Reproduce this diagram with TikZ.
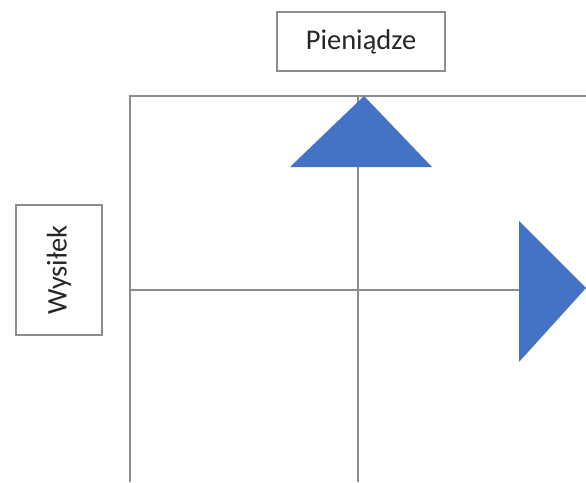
\documentclass[tikz,border=0pt]{standalone}
\usepackage{fontspec}
\setmainfont{Carlito}
\definecolor{officeblue}{HTML}{4472C4}
\definecolor{linegray}{HTML}{8C8C8C}
\definecolor{textgray}{HTML}{262626}
\begin{document}
\begin{tikzpicture}[x=1pt,y=-1pt,
  labelbox/.style={draw=linegray,line width=1.2pt,fill=white,inner sep=0pt,text=textgray,font=\fontsize{28.5}{32}\selectfont},
  gridline/.style={draw=linegray,line width=1.3pt},
  arrowtri/.style={fill=officeblue,draw=none}]
\useasboundingbox (0,0) rectangle (586,482);
% frame and axes
\coordinate (tl) at (130,96);
\coordinate (tr) at (586,96);
\coordinate (bl) at (130,482);
\coordinate (vt) at (358,96);
\coordinate (vb) at (358,482);
\coordinate (hl) at (130,290);
\coordinate (hr) at (520,290);
\draw[gridline] (bl) -- (tl) -- (tr);
\draw[gridline] (vt) -- (vb);
\draw[gridline] (hl) -- (hr);
% triangles
\fill[arrowtri] (364,96) -- (432,167) -- (290,167) -- cycle;
\fill[arrowtri] (586,288) -- (519,362) -- (519,221) -- cycle;
% labels
\node[labelbox,minimum width=168pt,minimum height=59pt] (money) at (361,41.5) {Pieniądze};
\node[labelbox,minimum width=130pt,minimum height=86pt,rotate=90] (effort) at (59,270) {Wysiłek};
\end{tikzpicture}
\end{document}
